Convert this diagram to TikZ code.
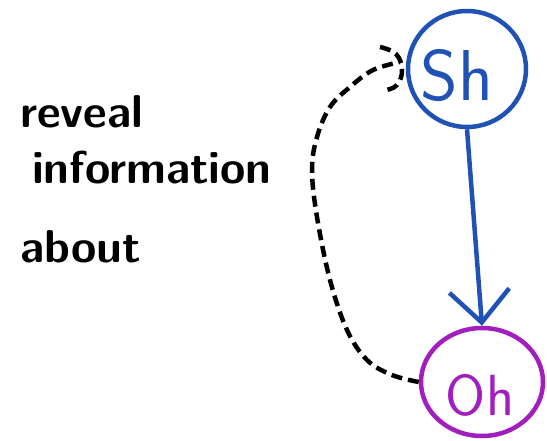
\documentclass[tikz,border=0pt]{standalone}
\usetikzlibrary{shapes.geometric,arrows.meta}
\definecolor{penblue}{RGB}{32,82,182}
\definecolor{penpurple}{RGB}{162,30,190}
\begin{document}
\begin{tikzpicture}[x=1pt,y=-1pt,
  blob/.style={ellipse,draw,line width=4.5pt,inner sep=0pt},
  handtext/.style={font=\sffamily\bfseries\fontsize{46}{50}\selectfont,anchor=base west,inner sep=0pt},
  dashline/.style={line width=4.5pt,dash pattern=on 11pt off 6pt,black}]
\useasboundingbox (0,0) rectangle (547,441);
% nodes
\node[blob,penblue,minimum width=118pt,minimum height=116pt] (Sh) at (467,69) {};
\node[text=penblue,font=\sffamily\fontsize{72}{72}\selectfont,inner sep=0pt] (ShT) at (457,76) {Sh};
\node[blob,penpurple,minimum width=122pt,minimum height=108pt] (Oh) at (482,382) {};
\node[text=penpurple,font=\sffamily\fontsize{58}{58}\selectfont,inner sep=0pt] (OhT) at (480,395) {Oh};
% text
\node[handtext] (t1) at (20,128) {reveal};
\node[handtext] (t2) at (32,184) {information};
\node[handtext] (t3) at (20,262) {about};
% arrow
\draw[penblue,line width=4.5pt,-{Straight Barb[length=32pt,width=60pt,line width=4.5pt]}] (Sh.south) -- (Oh.north);
% dashed connector
\draw[dashline] plot[smooth,tension=0.6] coordinates {(Oh.west) (392,375) (367,360) (347,330) (330,280) (317,217) (312,170) (317,137) (330,107) (350,87) (373,70) (400,62)};
\draw[dashline] plot[smooth,tension=0.7] coordinates {(380,47) (396,54) (402,70) (397,85) (386,90)};
\end{tikzpicture}
\end{document}
